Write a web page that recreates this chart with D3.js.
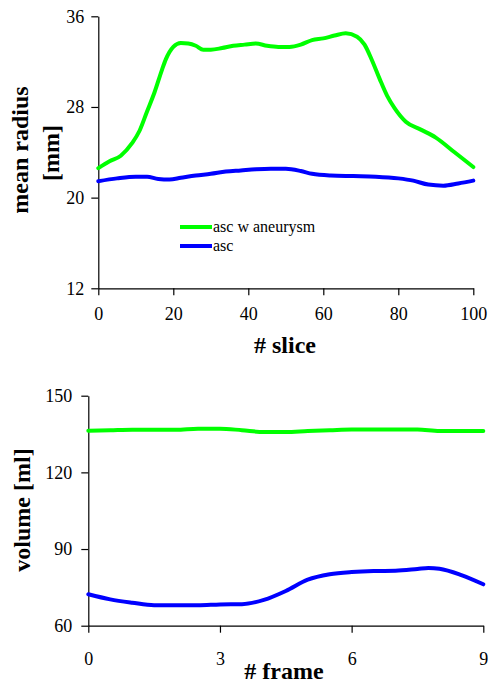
<!DOCTYPE html>
<html>
<head>
<meta charset="utf-8">
<script src="https://cdn.jsdelivr.net/npm/d3@7"></script>
<style>
html,body{margin:0;padding:0;background:#fff;}
svg{display:block;}
svg text{font-family:"Liberation Serif","Times New Roman",serif;fill:#000;}
</style>
</head>
<body>
<svg id="chart" width="495" height="683"></svg>
<script>
// ---- Top chart data: mean radius vs slice ----
const sliceTicks = [0, 20, 40, 60, 80, 100];
const radiusTicks = [12, 20, 28, 36];
const aneurysmSlices = [0,3,6,9,11,13,15,17,18,20,22,24,26,28,30,33,36,39,42,45,48,51,54,57,60,63,66,69,71,73,75,77,79,82,86,90,95,100];
const aneurysmRadius = [22.6,23.2,23.7,24.8,25.9,27.6,29.3,31.3,32.2,33.3,33.65,33.6,33.4,33.05,33.05,33.2,33.4,33.5,33.6,33.4,33.3,33.3,33.5,33.9,34.05,34.3,34.5,34.2,33.5,32.1,30.5,29.0,27.9,26.7,26.0,25.3,24.0,22.7];
const ascSlices = [0,5,10,13,16,19,22,26,30,34,38,42,46,50,54,57,62,68,74,80,84,88,92,96,100];
const ascRadius = [21.45,21.7,21.85,21.85,21.65,21.6,21.75,21.95,22.1,22.3,22.4,22.5,22.55,22.55,22.35,22.1,21.95,21.9,21.85,21.7,21.5,21.15,21.05,21.25,21.5];
const seriesNames = ["asc w aneurysm", "asc"];

// ---- Bottom chart data: volume vs frame ----
const frameTicks = [0, 3, 6, 9];
const volumeTicks = [60, 90, 120, 150];
const aneurysmFrames = [0,0.5,1,1.5,2,2.5,3,3.5,4,4.5,5,5.5,6,6.5,7,7.5,8,8.5,9];
const aneurysmVolume = [136.3,136.5,136.7,136.7,136.7,137.1,137.1,136.5,135.8,135.8,136.2,136.5,136.8,136.8,136.8,136.8,136.2,136.2,136.2];
const ascFrames = [0,0.5,1,1.5,2,2.5,3,3.5,4,4.5,5,5.5,6,6.5,7,7.5,7.75,8,8.5,9];
const ascVolume = [72.3,70.3,69.0,68.0,68.0,68.0,68.3,68.4,70.1,73.6,78.0,80.1,81.0,81.4,81.5,82.2,82.6,82.3,79.8,76.2];

const GREEN = "#00ff00", BLUE = "#0000ff";
const svg = d3.select("#chart");

function drawPanel(o) {
  const x = d3.scaleLinear().domain(o.xDomain).range([o.x0, o.x1]);
  const y = d3.scaleLinear().domain(o.yDomain).range([o.y1, o.y0]);
  const g = svg.append("g");

  const ax = g.append("g").attr("transform", `translate(0,${o.y1})`)
    .call(d3.axisBottom(x).tickValues(o.xTicks).tickSize(7).tickPadding(o.xPad).tickSizeOuter(0));
  const ay = g.append("g").attr("transform", `translate(${o.x0},0)`)
    .call(d3.axisLeft(y).tickValues(o.yTicks).tickSize(7).tickPadding(o.yPad).tickSizeOuter(0));
  [ax, ay].forEach(a => {
    a.attr("font-family", null);
    a.selectAll("path,line").attr("stroke", "#000").attr("stroke-width", 1.2);
    a.selectAll("text").attr("font-size", 18).attr("fill", "#000");
  });

  const line = d3.line().x(d => x(d[0])).y(d => y(d[1])).curve(d3.curveMonotoneX);
  o.series.forEach(s => {
    g.append("path").datum(d3.zip(s.xs, s.ys))
      .attr("d", line).attr("fill", "none")
      .attr("stroke", s.color).attr("stroke-width", 4)
      .attr("stroke-linejoin", "round").attr("stroke-linecap", "round");
  });
  return {x, y, g};
}

// Top panel
const topPanel = drawPanel({
  x0: 98.3, x1: 473.3, y0: 16.3, y1: 288.3,
  xDomain: [0, 100], yDomain: [12, 36],
  xTicks: sliceTicks, yTicks: radiusTicks, xPad: 12, yPad: 7,
  series: [
    {xs: aneurysmSlices, ys: aneurysmRadius, color: GREEN},
    {xs: ascSlices, ys: ascRadius, color: BLUE}
  ]
});

// Top titles
svg.append("text").attr("x", 285).attr("y", 353).attr("text-anchor", "middle")
  .attr("font-size", 24).attr("font-weight", "bold").text("# slice");
svg.append("text").attr("transform", "translate(28,150) rotate(-90)").attr("text-anchor", "middle")
  .attr("font-size", 24).attr("font-weight", "bold").text("mean radius");
svg.append("text").attr("transform", "translate(59,153) rotate(-90)").attr("text-anchor", "middle")
  .attr("font-size", 24).attr("font-weight", "bold").text("[mm]");

// Legend
const legend = svg.append("g");
[GREEN, BLUE].forEach((c, i) => {
  const yy = 227 + i * 19;
  legend.append("line").attr("x1", 180).attr("x2", 212).attr("y1", yy).attr("y2", yy)
    .attr("stroke", c).attr("stroke-width", 4);
  legend.append("text").attr("x", 213).attr("y", yy + 5).attr("font-size", 16)
    .text(seriesNames[i]);
});

// Bottom panel
const bottomPanel = drawPanel({
  x0: 88.3, x1: 483.3, y0: 395.7, y1: 625.7,
  xDomain: [0, 9], yDomain: [60, 150],
  xTicks: frameTicks, yTicks: volumeTicks, xPad: 20, yPad: 9,
  series: [
    {xs: aneurysmFrames, ys: aneurysmVolume, color: GREEN},
    {xs: ascFrames, ys: ascVolume, color: BLUE}
  ]
});

svg.append("text").attr("x", 284).attr("y", 679).attr("text-anchor", "middle")
  .attr("font-size", 24).attr("font-weight", "bold").text("# frame");
svg.append("text").attr("transform", "translate(30,510) rotate(-90)").attr("text-anchor", "middle")
  .attr("font-size", 24).attr("font-weight", "bold").text("volume [ml]");
</script>
</body>
</html>
